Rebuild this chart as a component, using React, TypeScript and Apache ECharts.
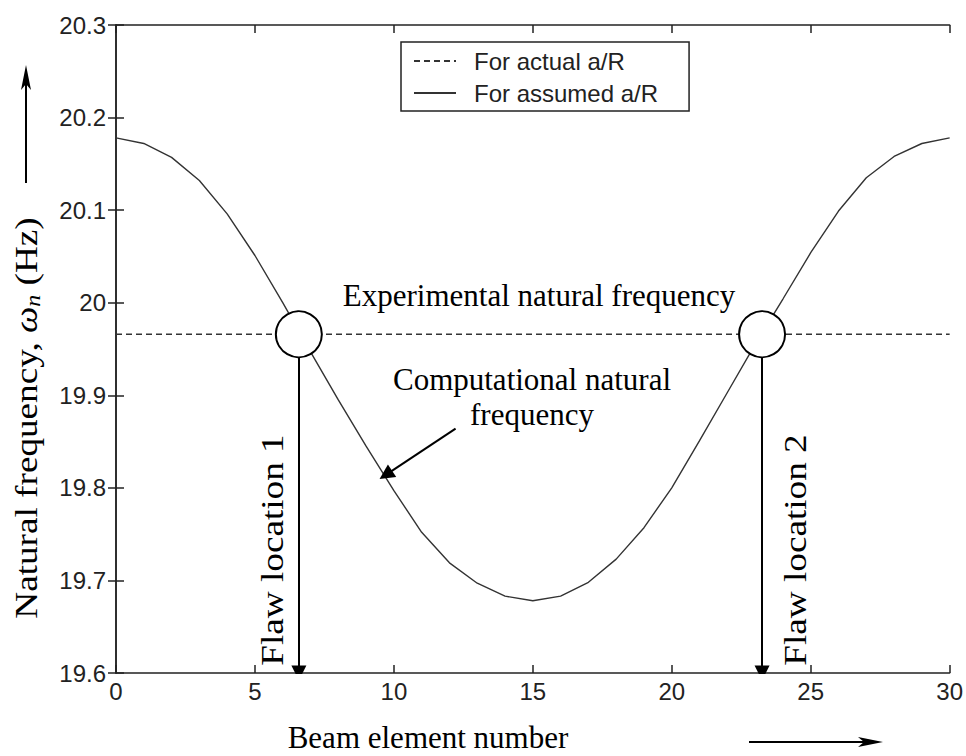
import React, { useEffect, useRef } from "react";
import * as echarts from "echarts";

// Beam element numbers (x)
const elements = [
  0, 1, 2, 3, 4, 5, 6, 7, 8, 9, 10, 11, 12, 13, 14, 15, 16, 17, 18, 19, 20,
  21, 22, 23, 24, 25, 26, 27, 28, 29, 30,
];
// Computational natural frequency for assumed a/R (Hz)
const assumedFreq = [
  20.178, 20.172, 20.157, 20.132, 20.096, 20.051, 20.0, 19.947, 19.895,
  19.845, 19.797, 19.752, 19.719, 19.697, 19.683, 19.678, 19.683, 19.698,
  19.723, 19.757, 19.8, 19.851, 19.903, 19.955, 20.004, 20.054, 20.099,
  20.135, 20.158, 20.172, 20.178,
];
// Experimental natural frequency for actual a/R (Hz)
const actualFreq = 19.966;
const actualRange = [0, 30];
// Flaw locations (beam element number)
const flawLocations = [6.58, 23.25];
// Computational arrow: tail and head in data units
const compArrow = [
  [12.22, 19.864],
  [9.71, 19.814],
];

const xTicks = { min: 0, max: 30, interval: 5 };
const yTicks = { min: 19.6, max: 20.3, interval: 0.1 };

const SERIF = '"Liberation Serif", "Times New Roman", serif';
const SANS = '"Liberation Sans", Arial, sans-serif';

export default function App() {
  const ref = useRef<HTMLDivElement>(null);

  useEffect(() => {
    if (!ref.current) return;
    const chart = echarts.init(ref.current, undefined, { renderer: "svg" });

    const axisLineStyle = { color: "#222", width: 1.5 };
    const labelStyle = { color: "#222", fontSize: 24, fontFamily: SANS };

    const circleBottom = actualFreq - 23 / 926;

    const option: any = {
      animation: false,
      backgroundColor: "#fff",
      grid: { left: 116, right: 14, top: 25, bottom: 83, containLabel: false },
      legend: {
        orient: "vertical",
        left: 401,
        top: 42,
        data: ["For actual a/R", "For assumed a/R"],
        itemWidth: 42,
        itemHeight: 24,
        itemGap: 8,
        padding: [7, 31, 6, 12],
        borderColor: "#222",
        borderWidth: 1.5,
        backgroundColor: "#fff",
        selectedMode: false,
        itemStyle: { opacity: 0 },
        textStyle: {
          color: "#222",
          fontSize: 24,
          fontFamily: SANS,
          padding: [0, 0, 0, 13],
        },
      },
      xAxis: [
        {
          type: "value",
          ...xTicks,
          position: "bottom",
          axisLine: { show: true, lineStyle: axisLineStyle },
          axisTick: { show: true, inside: true, length: 8, lineStyle: axisLineStyle },
          axisLabel: { ...labelStyle, margin: 6 },
          splitLine: { show: false },
        },
        {
          type: "value",
          ...xTicks,
          position: "top",
          axisLine: { show: true, lineStyle: axisLineStyle },
          axisTick: { show: true, inside: true, length: 8, lineStyle: axisLineStyle },
          axisLabel: { show: false },
          splitLine: { show: false },
        },
      ],
      yAxis: [
        {
          type: "value",
          ...yTicks,
          position: "left",
          axisLine: { show: true, lineStyle: axisLineStyle },
          axisTick: { show: true, inside: true, length: 8, lineStyle: axisLineStyle },
          axisLabel: {
            ...labelStyle,
            margin: 10,
            formatter: (v: number) => String(Math.round(v * 10) / 10),
          },
          splitLine: { show: false },
        },
        {
          type: "value",
          ...yTicks,
          position: "right",
          axisLine: { show: true, lineStyle: axisLineStyle },
          axisTick: { show: true, inside: true, length: 8, lineStyle: axisLineStyle },
          axisLabel: { show: false },
          splitLine: { show: false },
        },
      ],
      series: [
        {
          name: "For actual a/R",
          type: "line",
          symbol: "none",
          data: actualRange.map((x) => [x, actualFreq]),
          lineStyle: { color: "#333", width: 1.5, type: [6, 4] },
          itemStyle: { color: "#333" },
          z: 2,
        },
        {
          name: "For assumed a/R",
          type: "line",
          symbol: "none",
          data: elements.map((x, i) => [x, assumedFreq[i]]),
          lineStyle: { color: "#333", width: 1.4 },
          itemStyle: { color: "#333" },
          z: 2,
        },
        {
          name: "Flaw circles",
          type: "scatter",
          symbol: "circle",
          symbolSize: 46,
          data: flawLocations.map((x) => [x, actualFreq]),
          itemStyle: { color: "#fff", borderColor: "#000", borderWidth: 2, opacity: 1 },
          z: 5,
        },
        {
          name: "Flaw arrows",
          type: "lines",
          coordinateSystem: "cartesian2d",
          polyline: false,
          symbol: ["none", "triangle"],
          symbolSize: 15,
          lineStyle: { color: "#000", width: 2, opacity: 1 },
          data: flawLocations.map((x) => ({
            coords: [
              [x, circleBottom],
              [x, yTicks.min],
            ],
          })),
          z: 6,
        },
        {
          name: "Computational arrow",
          type: "lines",
          coordinateSystem: "cartesian2d",
          polyline: false,
          symbol: ["none", "triangle"],
          symbolSize: 15,
          lineStyle: { color: "#000", width: 2, opacity: 1 },
          data: [{ coords: compArrow }],
          z: 6,
        },
      ],
      graphic: [
        {
          type: "text",
          x: 26,
          y: 418,
          rotation: Math.PI / 2,
          scaleX: 1.2,
          style: {
            text: "Natural frequency, {w|ω}{n|n} (Hz)",
            font: `31px ${SERIF}`,
            fill: "#000",
            align: "center",
            verticalAlign: "middle",
            rich: {
              w: { fontSize: 31, fontFamily: SERIF, fontStyle: "italic", fill: "#000" },
              n: {
                fontSize: 20,
                fontFamily: SERIF,
                fontStyle: "italic",
                fill: "#000",
                padding: [14, 0, 0, 0],
              },
            },
          },
        },
        // y-axis direction arrow
        {
          type: "line",
          shape: { x1: 26, y1: 183, x2: 26, y2: 80 },
          style: { stroke: "#000", lineWidth: 2 },
        },
        {
          type: "polygon",
          shape: { points: [[26, 65], [31, 90], [26, 84], [21, 90]] },
          style: { fill: "#000" },
        },
        {
          type: "text",
          x: 428,
          y: 737,
          style: {
            text: "Beam element number",
            font: `31px ${SERIF}`,
            fill: "#000",
            align: "center",
            verticalAlign: "middle",
          },
        },
        // x-axis direction arrow
        {
          type: "line",
          shape: { x1: 749, y1: 742, x2: 868, y2: 742 },
          style: { stroke: "#000", lineWidth: 2 },
        },
        {
          type: "polygon",
          shape: { points: [[883, 742], [858, 737], [864, 742], [858, 747]] },
          style: { fill: "#000" },
        },
        {
          type: "text",
          x: 539,
          y: 295,
          z: 10,
          style: {
            text: "Experimental natural frequency",
            font: `31px ${SERIF}`,
            fill: "#000",
            align: "center",
            verticalAlign: "middle",
          },
        },
        {
          type: "text",
          x: 532,
          y: 397,
          z: 10,
          style: {
            text: "Computational natural\nfrequency",
            font: `31px ${SERIF}`,
            lineHeight: 35,
            fill: "#000",
            align: "center",
            verticalAlign: "middle",
          },
        },
        {
          type: "text",
          x: 272,
          y: 550,
          rotation: Math.PI / 2,
          scaleX: 1.2,
          z: 10,
          style: {
            text: "Flaw location 1",
            font: `31px ${SERIF}`,
            fill: "#000",
            align: "center",
            verticalAlign: "middle",
          },
        },
        {
          type: "text",
          x: 795,
          y: 550,
          rotation: Math.PI / 2,
          scaleX: 1.2,
          z: 10,
          style: {
            text: "Flaw location 2",
            font: `31px ${SERIF}`,
            fill: "#000",
            align: "center",
            verticalAlign: "middle",
          },
        },
      ],
    };

    chart.setOption(option);
    return () => chart.dispose();
  }, []);

  return (
    <div
      ref={ref}
      style={{ position: "absolute", left: 0, top: 0, width: 966, height: 756 }}
    />
  );
}
